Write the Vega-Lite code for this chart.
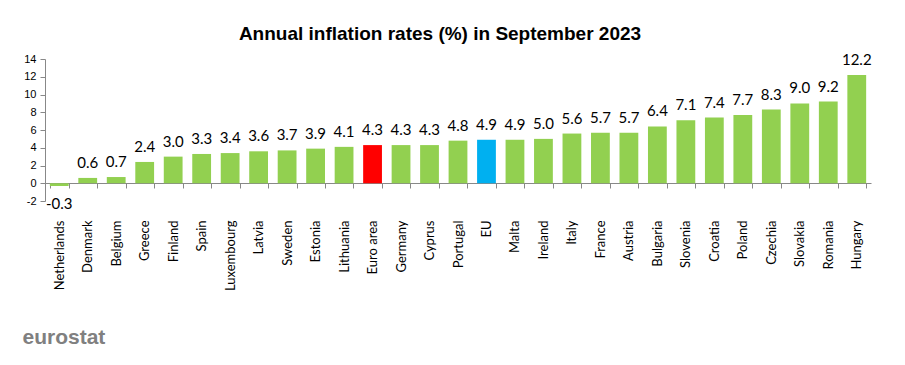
{
  "$schema": "https://vega.github.io/schema/vega-lite/v6.json",
  "width": 826,
  "height": 142,
  "autosize": {"type": "none"},
  "padding": {"left": 45, "top": 59, "right": 34, "bottom": 164},
  "background": "white",
  "title": {
    "text": "Annual inflation rates (%)  in September 2023",
    "font": "Liberation Sans",
    "fontSize": 19,
    "fontWeight": "bold",
    "color": "black",
    "anchor": "middle",
    "dx": -18,
    "offset": 9
  },
  "data": {
    "values": [
      {"country": "Netherlands", "v": -0.3, "g": "c"},
      {"country": "Denmark", "v": 0.6, "g": "c"},
      {"country": "Belgium", "v": 0.7, "g": "c"},
      {"country": "Greece", "v": 2.4, "g": "c"},
      {"country": "Finland", "v": 3.0, "g": "c"},
      {"country": "Spain", "v": 3.3, "g": "c"},
      {"country": "Luxembourg", "v": 3.4, "g": "c"},
      {"country": "Latvia", "v": 3.6, "g": "c"},
      {"country": "Sweden", "v": 3.7, "g": "c"},
      {"country": "Estonia", "v": 3.9, "g": "c"},
      {"country": "Lithuania", "v": 4.1, "g": "c"},
      {"country": "Euro area", "v": 4.3, "g": "ea"},
      {"country": "Germany", "v": 4.3, "g": "c"},
      {"country": "Cyprus", "v": 4.3, "g": "c"},
      {"country": "Portugal", "v": 4.8, "g": "c"},
      {"country": "EU", "v": 4.9, "g": "eu"},
      {"country": "Malta", "v": 4.9, "g": "c"},
      {"country": "Ireland", "v": 5.0, "g": "c"},
      {"country": "Italy", "v": 5.6, "g": "c"},
      {"country": "France", "v": 5.7, "g": "c"},
      {"country": "Austria", "v": 5.7, "g": "c"},
      {"country": "Bulgaria", "v": 6.4, "g": "c"},
      {"country": "Slovenia", "v": 7.1, "g": "c"},
      {"country": "Croatia", "v": 7.4, "g": "c"},
      {"country": "Poland", "v": 7.7, "g": "c"},
      {"country": "Czechia", "v": 8.3, "g": "c"},
      {"country": "Slovakia", "v": 9.0, "g": "c"},
      {"country": "Romania", "v": 9.2, "g": "c"},
      {"country": "Hungary", "v": 12.2, "g": "c"}
    ]
  },
  "encoding": {
    "x": {
      "field": "country",
      "type": "nominal",
      "sort": null,
      "title": "eurostat",
      "scale": {"paddingInner": 0.34, "paddingOuter": 0.17},
      "axis": {
        "offset": -18,
        "labelAngle": -90,
        "labelFont": "Lato",
        "labelFontSize": 13,
        "labelColor": "black",
        "labelPadding": 32,
        "tickBand": "extent",
        "tickSize": 5,
        "tickColor": "#888888",
        "domainColor": "#888888",
        "grid": false,
        "titleFont": "Liberation Sans",
        "titleFontSize": 21,
        "titleFontWeight": "bold",
        "titleColor": "#808080",
        "titleAnchor": "start",
        "titleAlign": "left",
        "titleBaseline": "alphabetic",
        "titleAngle": 0,
        "titleX": -23,
        "titleY": 160
      }
    },
    "y": {
      "field": "v",
      "type": "quantitative",
      "title": null,
      "scale": {"domain": [-2, 14], "nice": false, "zero": false},
      "axis": {
        "values": [-2, 0, 2, 4, 6, 8, 10, 12, 14],
        "grid": false,
        "labelFont": "Liberation Sans",
        "labelFontSize": 11,
        "labelColor": "black",
        "tickSize": 5,
        "tickColor": "#888888",
        "domainColor": "#888888",
        "labelPadding": 4
      }
    }
  },
  "layer": [
    {
      "mark": {"type": "bar"},
      "encoding": {
        "y2": {"datum": 0},
        "color": {
          "field": "g",
          "type": "nominal",
          "scale": {"domain": ["c", "ea", "eu"], "range": ["#92D050", "#FF0000", "#00B0F0"]},
          "legend": null
        }
      }
    },
    {
      "transform": [{"filter": "datum.v >= 0"}],
      "mark": {"type": "text", "font": "Lato", "fontSize": 15, "color": "black", "baseline": "alphabetic", "dy": -10},
      "encoding": {"text": {"field": "v", "type": "quantitative", "format": ".1f"}}
    },
    {
      "transform": [{"filter": "datum.v < 0"}],
      "mark": {"type": "text", "font": "Lato", "fontSize": 15, "color": "black", "baseline": "top", "dy": 11},
      "encoding": {"text": {"field": "v", "type": "quantitative", "format": ".1f"}}
    }
  ],
  "config": {
    "view": {"stroke": null},
    "locale": {"number": {"decimal": ".", "thousands": ",", "grouping": [3], "currency": ["$", ""], "minus": "-"}}
  }
}
